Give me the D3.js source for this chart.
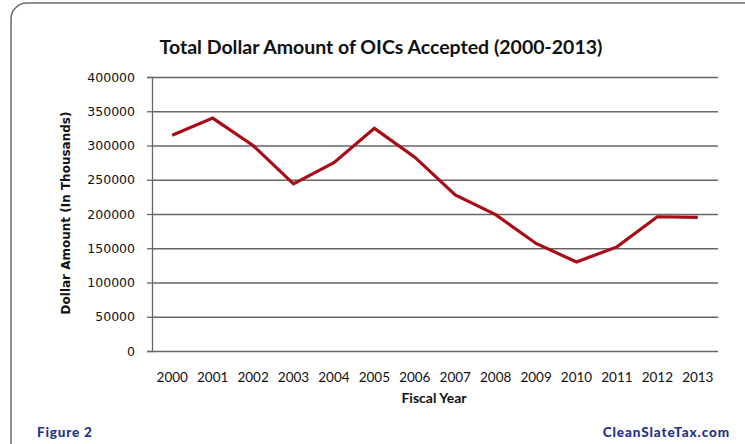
<!DOCTYPE html>
<html>
<head>
<meta charset="utf-8">
<script src="https://cdn.jsdelivr.net/npm/d3@7"></script>
<style>
  body { margin: 0; background: #fff; }
</style>
</head>
<body>
<div id="chart"></div>
<script>
// Données
const years = ["2000", "2001", "2002", "2003", "2004", "2005", "2006", "2007", "2008", "2009", "2010", "2011", "2012", "2013"];
const amounts = [315000, 340000, 300000, 244000, 275000, 325000, 283000, 228000, 199000, 157000, 130000, 152000, 196000, 195000];
const yTicks = [0, 50000, 100000, 150000, 200000, 250000, 300000, 350000, 400000];

const W = 745, H = 444;
const margin = { left: 152, right: 27, top: 77, bottom: 93 };
const width = W - margin.left - margin.right;
const height = H - margin.top - margin.bottom;

const svg = d3.select("#chart")
  .append("svg")
  .attr("width", W)
  .attr("height", H);

// cadre arrondi
svg.append("rect")
  .attr("x", 11).attr("y", 3)
  .attr("width", 780).attr("height", 470)
  .attr("rx", 16)
  .attr("fill", "none")
  .attr("stroke", "#6a6a6a")
  .attr("stroke-width", 1.5);

// titre
svg.append("text")
  .attr("x", 381).attr("y", 54)
  .attr("text-anchor", "middle")
  .attr("font-family", "Lato, sans-serif")
  .attr("font-weight", "bold")
  .attr("font-size", 19.5)
  .attr("fill", "#111")
  .text("Total Dollar Amount of OICs Accepted (2000-2013)");

const g = svg.append("g").attr("transform", `translate(${margin.left},${margin.top})`);

// échelles
const x = d3.scaleBand().domain(years).range([0, width]);
const y = d3.scaleLinear().domain([0, 400000]).range([height, 0]);

// axe Y + grille
g.append("g")
  .call(d3.axisLeft(y).tickValues(yTicks).tickSize(5).tickPadding(12).tickFormat(d => d))
  .call(a => a.select(".domain").attr("stroke", "#666").attr("stroke-width", 1.3))
  .call(a => a.selectAll(".tick line").attr("stroke", "#666").attr("stroke-width", 1.3))
  .call(a => a.selectAll(".tick line").clone().attr("x1", 0).attr("x2", width))
  .call(a => a.selectAll("text")
    .attr("font-family", "DejaVu Sans, Verdana, sans-serif")
    .attr("font-size", 12.5)
    .attr("fill", "#111"));

// axe X
g.append("g")
  .attr("transform", `translate(0,${height})`)
  .call(d3.axisBottom(x).tickSize(0).tickPadding(21))
  .call(a => a.select(".domain").remove())
  .call(a => a.selectAll("text")
    .attr("font-family", "Lato, sans-serif")
    .attr("font-size", 13.5)
    .attr("fill", "#111"));

// titres des axes
svg.append("text")
  .attr("transform", `translate(70,${margin.top + height / 2 - 1}) rotate(-90)`)
  .attr("text-anchor", "middle")
  .attr("font-family", "DejaVu Sans, Verdana, sans-serif")
  .attr("font-weight", "bold")
  .attr("font-size", 12)
  .attr("fill", "#111")
  .text("Dollar Amount (In Thousands)");

svg.append("text")
  .attr("x", 434).attr("y", 403)
  .attr("text-anchor", "middle")
  .attr("font-family", "Lato, sans-serif")
  .attr("font-weight", "bold")
  .attr("font-size", 14)
  .attr("fill", "#111")
  .text("Fiscal Year");

// ligne
const line = d3.line()
  .x((d, i) => x(years[i]) + x.bandwidth() / 2)
  .y(d => y(d));

g.append("path")
  .attr("d", line(amounts))
  .attr("fill", "none")
  .attr("stroke", "#a80c18")
  .attr("stroke-width", 3.2)
  .attr("stroke-linejoin", "miter");

// pied de figure
svg.append("text")
  .attr("x", 37).attr("y", 437)
  .attr("font-family", "Lato, sans-serif")
  .attr("font-weight", "900")
  .attr("font-size", 13.5)
  .attr("letter-spacing", 0.8)
  .attr("fill", "#1f3489")
  .text("Figure 2");

svg.append("text")
  .attr("x", 730).attr("y", 437)
  .attr("text-anchor", "end")
  .attr("font-family", "Lato, sans-serif")
  .attr("font-weight", "900")
  .attr("font-size", 13.5)
  .attr("letter-spacing", 0.9)
  .attr("fill", "#1f3489")
  .text("CleanSlateTax.com");
</script>
</body>
</html>
